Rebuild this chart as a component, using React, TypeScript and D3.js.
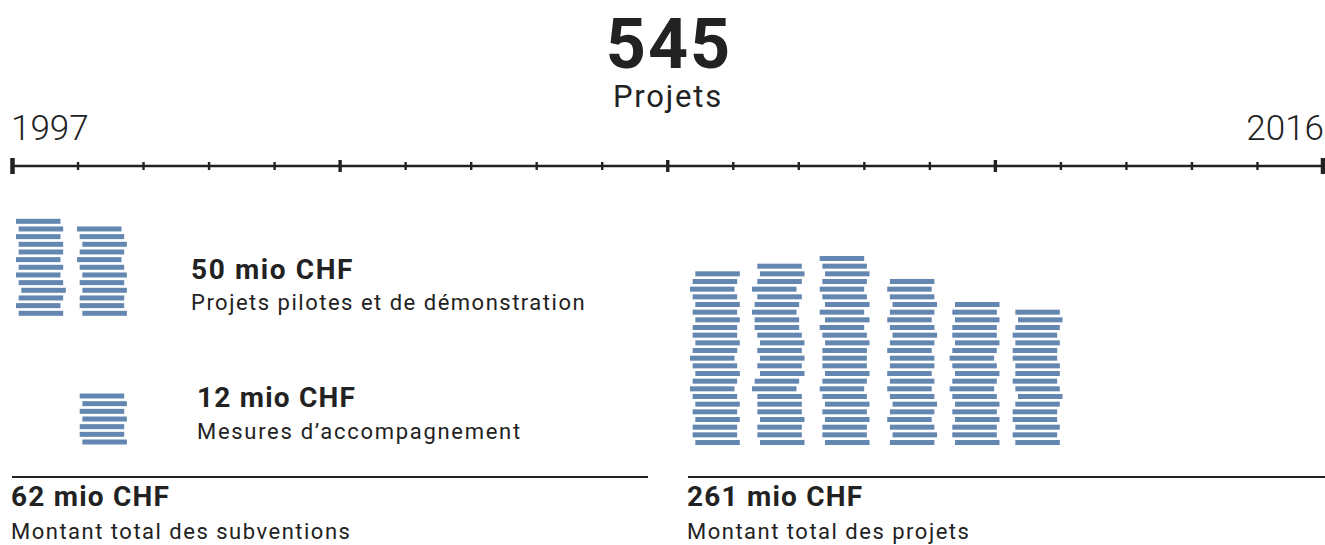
import React from 'react';
import * as d3 from 'd3';

// ---- data ----
const totalProjects = 545;
const startYear = 1997;
const endYear = 2016;

const pilotYears = [1997, 1998];
const pilotCounts = [13, 12];
const pilotJitter = [
  [0, 1, 0, 1, 1, 0, 1, 0, 1, 2, 1, 0, 1],
  [0, 1, 2, 1, 0, 1, 2, 1, 2, 1, 1, 2],
];

const accompYears = [1998];
const accompCounts = [7];
const accompJitter = [[0, 1, 0, 1, 0, 0, 1]];

const projectYears = [2007, 2008, 2009, 2010, 2011, 2012];
const projectCounts = [23, 24, 25, 22, 19, 18];
const projectJitter = [
  [2, 1, 0, 1, 2, 1, 2, 1, 1, 2, 1, 0, 1, 2, 1, 0, 1, 2, 1, 2, 1, 1, 2],
  [2, 3, 2, 0, 2, 1, 0, 1, 1, 2, 3, 2, 3, 2, 3, 1, 0, 2, 2, 2, 3, 2, 2, 3],
  [0, 1, 2, 1, 0, 1, 2, 0, 2, 0, 1, 2, 1, 1, 1, 2, 1, 0, 1, 2, 1, 2, 1, 1, 2],
  [1, 0, 1, 2, 1, 0, 1, 2, 1, 0, 1, 1, 0, 1, 0, 1, 2, 1, 0, 1, 2, 1],
  [2, 1, 2, 1, 1, 2, 1, 0, 1, 2, 1, 0, 1, 2, 1, 2, 1, 1, 2],
  [1, 2, 1, 0, 1, 0, 0, 1, 1, 0, 1, 2, 1, 0, 0, 1, 0, 1],
];

const pilotAmount = '50 mio CHF';
const pilotLabel = 'Projets pilotes et de démonstration';
const accompAmount = '12 mio CHF';
const accompLabel = 'Mesures d\u2019accompagnement';
const subsidyAmount = '62 mio CHF';
const subsidyLabel = 'Montant total des subventions';
const projectAmount = '261 mio CHF';
const projectLabel = 'Montant total des projets';
const projectsWord = 'Projets';

// ---- layout ----
const W = 1325;
const H = 545;
const FONT = 'Roboto, "Noto Sans", sans-serif';
const INK = '#222222';
const BAR = '#6487b1';

export default function App() {
  const x = d3.scaleLinear().domain([startYear, endYear + 1]).range([12.5, 1323]);
  const tickYears = d3.range(startYear, endYear + 2);
  const unit = 8 / 3;
  const barW = 44.5;
  const barH = 5;
  const pitch = 23 / 3;

  const groups = [
    { years: pilotYears, counts: pilotCounts, jitter: pilotJitter, pad: [3.5, -1], bottom: 313.3 },
    { years: accompYears, counts: accompCounts, jitter: accompJitter, pad: [1.7], bottom: 442 },
    { years: projectYears, counts: projectCounts, jitter: projectJitter, pad: [22.25, 18.7, 20.9, 22.9, 19.8, 17.3], bottom: 442.5 },
  ];

  const bars: { x: number; y: number; key: string }[] = [];
  groups.forEach((g, gi) => {
    const y = d3.scaleLinear().domain([0, 1]).range([g.bottom, g.bottom - pitch]);
    g.years.forEach((yr, si) => {
      const n = g.counts[si];
      const jit = g.jitter[si];
      for (let i = 0; i < n; i++) {
        const fromBottom = n - 1 - i;
        bars.push({
          key: `${gi}-${si}-${i}`,
          x: x(yr) + g.pad[si] + jit[i] * unit,
          y: y(fromBottom) - barH / 2,
        });
      }
    });
  });

  const axisY = 166;
  const boldProps = { fontSize: 28, fontWeight: 700, fill: INK, letterSpacing: 1.2 };
  const regProps = { fontSize: 22, fill: INK, letterSpacing: 1.5 };

  return (
    <svg
      width={W}
      height={H}
      viewBox={`0 0 ${W} ${H}`}
      style={{ position: 'absolute', left: 0, top: 0, background: '#fff' }}
      fontFamily={FONT}
    >
      <text x={669} y={68} textAnchor="middle" fontSize={70} fontWeight={700} fill={INK} letterSpacing={2}>
        {totalProjects}
      </text>
      <text x={668} y={107} textAnchor="middle" fontSize={31} fill={INK} letterSpacing={1.8}>
        {projectsWord}
      </text>
      <text x={11} y={140} fontSize={35} fontWeight={300} fill={INK}>
        {startYear}
      </text>
      <text x={1324} y={140} textAnchor="end" fontSize={35} fontWeight={300} fill={INK}>
        {endYear}
      </text>

      <line x1={x(startYear)} x2={x(endYear + 1)} y1={axisY} y2={axisY} stroke={INK} strokeWidth={2.3} />
      {tickYears.map((yr, i) => {
        const isEnd = i === 0 || i === tickYears.length - 1;
        const isMajor = i % 5 === 0;
        const h = isEnd ? 8 : isMajor ? 6 : 4;
        const w = isEnd ? 4.5 : isMajor ? 3.4 : 2.4;
        return (
          <line key={yr} x1={x(yr)} x2={x(yr)} y1={axisY - h} y2={axisY + h} stroke={INK} strokeWidth={w} />
        );
      })}

      {bars.map((b) => (
        <rect key={b.key} x={b.x} y={b.y} width={barW} height={barH} fill={BAR} />
      ))}

      <text x={191} y={279} {...boldProps} letterSpacing={1.6}>{pilotAmount}</text>
      <text x={191} y={310} {...regProps}>{pilotLabel}</text>
      <text x={197} y={407} {...boldProps}>{accompAmount}</text>
      <text x={197} y={439} {...regProps} letterSpacing={1.7}>{accompLabel}</text>

      <line x1={12} x2={648} y1={477} y2={477} stroke={INK} strokeWidth={2} />
      <line x1={688} x2={1325} y1={477} y2={477} stroke={INK} strokeWidth={2} />

      <text x={11} y={506} {...boldProps}>{subsidyAmount}</text>
      <text x={11} y={539} {...regProps}>{subsidyLabel}</text>
      <text x={687} y={506} {...boldProps}>{projectAmount}</text>
      <text x={687} y={539} {...regProps}>{projectLabel}</text>
    </svg>
  );
}
